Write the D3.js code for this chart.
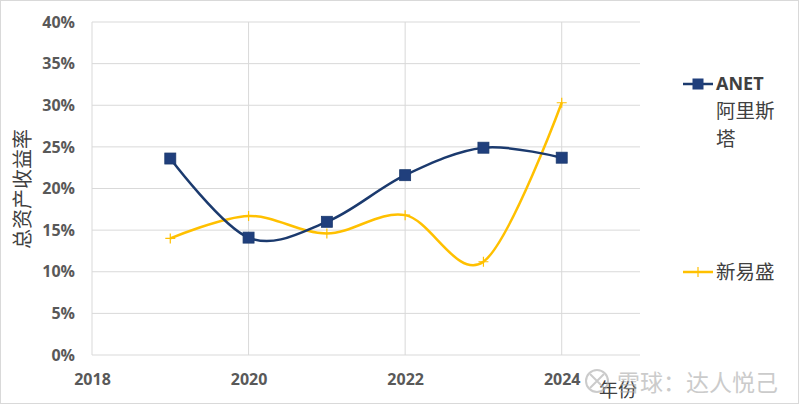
<!DOCTYPE html>
<html><head><meta charset="utf-8">
<script src="https://cdn.jsdelivr.net/npm/d3@7"></script>
<style>body{margin:0;background:#fff}svg{display:block}</style>
</head><body><svg id="c" width="800" height="405"></svg>
<script>
const years = [2019, 2020, 2021, 2022, 2023, 2024];
const anet = [0.236, 0.141, 0.160, 0.216, 0.249, 0.237];
const xys = [0.140, 0.167, 0.146, 0.168, 0.112, 0.303];
const xTicks = [2018, 2020, 2022, 2024];
const yTicks = [0, 0.05, 0.10, 0.15, 0.20, 0.25, 0.30, 0.35, 0.40];
const seriesNames = ["ANET 阿里斯塔", "新易盛"];

const svg = d3.select("#c");
const font = "'Open Sans','Noto Sans CJK SC',sans-serif";
svg.append("rect").attr("x",0.5).attr("y",0.5).attr("width",798).attr("height",403)
  .attr("fill","#fff").attr("stroke","#d9d9d9");

const x = d3.scaleLinear().domain([2018, 2025]).range([92, 640]);
const y = d3.scaleLinear().domain([0, 0.40]).range([355, 22]);

// gridlines
svg.append("g").selectAll("line").data(yTicks).join("line")
  .attr("x1", x(2018)).attr("x2", x(2025)).attr("y1", d=>y(d)).attr("y2", d=>y(d))
  .attr("stroke", "#d9d9d9").attr("stroke-width", 1);
svg.append("g").selectAll("line").data(xTicks).join("line")
  .attr("x1", d=>x(d)).attr("x2", d=>x(d)).attr("y1", y(0)).attr("y2", y(0.40))
  .attr("stroke", "#d9d9d9").attr("stroke-width", 1);

// y axis
const yAxis = svg.append("g").attr("transform", `translate(${x(2018)},0)`)
  .call(d3.axisLeft(y).tickValues(yTicks).tickFormat(d3.format(".0%")).tickSize(0).tickPadding(17));
yAxis.select(".domain").remove();
yAxis.selectAll("text").attr("font-family", font).attr("font-size", 16).attr("font-weight", "bold").attr("fill", "#595959");

const xAxis = svg.append("g").attr("transform", `translate(0,${y(0)})`)
  .call(d3.axisBottom(x).tickValues(xTicks).tickFormat(d3.format("d")).tickSize(0).tickPadding(19));
xAxis.select(".domain").remove();
xAxis.selectAll("text").attr("font-family", font).attr("font-size", 16).attr("font-weight", "bold").attr("fill", "#595959");

// axis titles
svg.append("text").attr("transform", "translate(30,189) rotate(-90)").attr("text-anchor","middle")
  .attr("font-family", font).attr("font-size", 20).attr("fill", "#404040").text("总资产收益率");
svg.append("text").attr("x", 618).attr("y", 397).attr("text-anchor","middle")
  .attr("font-family", font).attr("font-size", 19).attr("fill", "#404040").text("年份");

const line = d3.line().x((d,i)=>x(years[i])).y(d=>y(d)).curve(d3.curveCatmullRom.alpha(0));

svg.append("path").attr("d", line(xys)).attr("fill","none").attr("stroke","#ffc000").attr("stroke-width",2.5);
svg.append("g").selectAll("path").data(xys).join("path")
  .attr("d", (d,i)=>`M${x(years[i])-5},${y(d)}h10M${x(years[i])},${y(d)-5}v10`)
  .attr("stroke","#ffc000").attr("stroke-width",1.2);

svg.append("path").attr("d", line(anet)).attr("fill","none").attr("stroke","#1b3a6e").attr("stroke-width",2.5);
svg.append("g").selectAll("rect").data(anet).join("rect")
  .attr("x", (d,i)=>x(years[i])-5.5).attr("y", d=>y(d)-5.5).attr("width",11).attr("height",11)
  .attr("fill","#203f7c").attr("stroke","#1b3a6e").attr("stroke-width",0.8);

// legend
const lg = svg.append("g");
lg.append("line").attr("x1",683).attr("x2",713).attr("y1",84).attr("y2",84).attr("stroke","#1b3a6e").attr("stroke-width",2.5);
lg.append("rect").attr("x",692.5).attr("y",78.5).attr("width",11).attr("height",11).attr("fill","#203f7c");
const parts = [seriesNames[0].split(" ")[0], seriesNames[0].split(" ")[1].slice(0,3), seriesNames[0].split(" ")[1].slice(3)];
lg.selectAll("text.a").data(parts).join("text").attr("class","a")
  .attr("x",716).attr("y",(d,i)=>90+i*28)
  .attr("font-family", font).attr("font-size", (d,i)=>i===0?18:19.5).attr("font-weight",(d,i)=>i===0?"bold":"normal").attr("fill","#404040").text(d=>d);
lg.append("line").attr("x1",683).attr("x2",713).attr("y1",272).attr("y2",272).attr("stroke","#ffc000").attr("stroke-width",2.5);
lg.append("path").attr("d","M698,267v10").attr("stroke","#ffc000").attr("stroke-width",1.2);
lg.append("text").attr("x",716).attr("y",279).attr("font-family", font).attr("font-size", 19.5).attr("fill","#404040").text(seriesNames[1]);

// watermark
const wm = svg.append("g").attr("opacity",0.6);
wm.append("circle").attr("cx",597).attr("cy",381).attr("r",11).attr("fill","none").attr("stroke","#aaa").attr("stroke-width",2);
wm.append("path").attr("d","M590,374l14,14M604,374l-14,14").attr("stroke","#aaa").attr("stroke-width",2);
wm.append("text").attr("x",617).attr("y",391).attr("font-family", font).attr("font-size", 23).attr("fill","#aaa").text("雪球：达人悦己");
</script></body></html>
